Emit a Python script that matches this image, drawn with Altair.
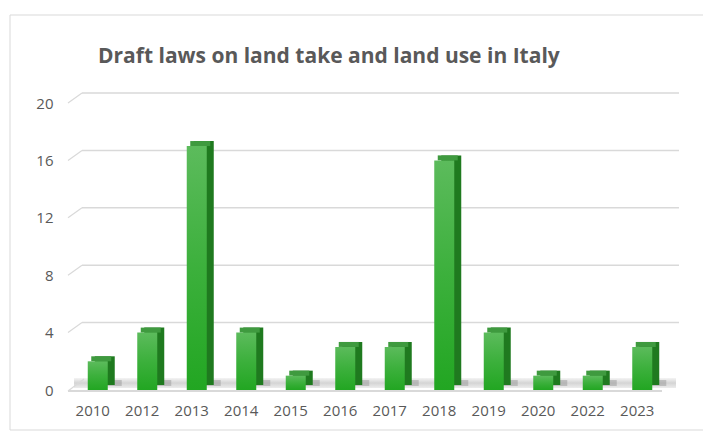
import altair as alt
import pandas as pd

years = ["2010", "2012", "2013", "2014", "2015", "2016", "2017", "2018", "2019", "2020", "2022", "2023"]
counts = [2, 4, 17, 4, 1, 3, 3, 16, 4, 1, 1, 3]
grid_values = [4, 8, 12, 16, 20]
y_ticks = [0, 4, 8, 12, 16, 20]
title_text = "Draft laws on land take and land use in Italy"

W, H = 594, 287
TXT = "#595959"
FONT = "Open Sans"

df = pd.DataFrame({"year": years, "count": counts})
gdf = pd.DataFrame({"v": grid_values})
one = pd.DataFrame({"t": [title_text]})

yaxis = alt.Axis(title=None, values=y_ticks, domain=False, ticks=False,
                 labelPadding=15, labelFontSize=15, labelColor=TXT, labelFont=FONT,
                 grid=False, zindex=1)
yscale = alt.Scale(domain=[0, 20], nice=False)

xs = alt.X("year:N", sort=years, scale=alt.Scale(paddingInner=0.0, paddingOuter=0.0),
           axis=alt.Axis(title=None, labelAngle=0, domain=False, ticks=False, labelPadding=13,
                         labelFontSize=15, labelColor=TXT, labelFont=FONT, grid=False, zindex=1))
ys = alt.Y("count:Q", scale=yscale, axis=yaxis)

frame = alt.Chart(one).mark_rect(fill="white", fillOpacity=0, stroke="#d9d9d9", strokeWidth=1).encode(
    x=alt.value(-58), x2=alt.value(W + 60), y=alt.value(-88), y2=alt.value(H + 40))

title = alt.Chart(one).mark_text(align="left", baseline="middle", font=FONT, fontSize=21,
                                 fontWeight="bold", color=TXT).encode(
    x=alt.value(30), y=alt.value(-46), text="t:N")

yg = alt.Y("v:Q", scale=yscale, axis=yaxis)
back_grid = alt.Chart(gdf).mark_rule(color="#d9d9d9", strokeWidth=1.5, yOffset=-10).encode(
    y=yg, x=alt.value(14), x2=alt.value(W + 17))
slant = alt.Chart(gdf).mark_rule(color="#d9d9d9", strokeWidth=1.2, y2Offset=-10).encode(
    y=yg, y2="v:Q", x=alt.value(0), x2=alt.value(14))

floor_grad = alt.Gradient(gradient="linear", x1=0, x2=0, y1=0, y2=1,
                          stops=[alt.GradientStop(offset=0, color="#f4f4f4"),
                                 alt.GradientStop(offset=0.5, color="#d4d4d4"),
                                 alt.GradientStop(offset=1, color="#ececec")])
floor = alt.Chart(one).mark_rect(color=floor_grad, yOffset=-12, y2Offset=-2).encode(
    x=alt.value(6), x2=alt.value(W + 14), y=alt.datum(0), y2=alt.datum(0))
front_line = alt.Chart(one).mark_rule(color="#d9d9d9", strokeWidth=2, yOffset=1).encode(
    x=alt.value(0), x2=alt.value(W), y=alt.datum(0))
slant0 = alt.Chart(one).mark_rule(color="#d9d9d9", strokeWidth=1.2, yOffset=1, y2Offset=-11).encode(
    x=alt.value(0), x2=alt.value(16), y=alt.datum(0), y2=alt.datum(0))

base = alt.Chart(df).encode(x=xs)
shadow = base.mark_bar(size=24, color="#7a7a7a", opacity=0.35, xOffset=17, yOffset=-10, y2Offset=-4).encode(
    y=alt.datum(0), y2=alt.datum(0))
side = base.mark_bar(size=20, color="#1f7a1f", xOffset=12, yOffset=-5, y2Offset=-5).encode(y=ys)
top = base.mark_bar(size=20, color="#3f9a3f", xOffset=8.5, yOffset=-5, y2Offset=0).encode(
    y=ys, y2="count:Q")
front_grad = alt.Gradient(gradient="linear", x1=0, x2=0, y1=0, y2=1,
                          stops=[alt.GradientStop(offset=0, color="#5cbb5c"),
                                 alt.GradientStop(offset=0.5, color="#3cb03c"),
                                 alt.GradientStop(offset=1, color="#22a622")])
front = base.mark_bar(size=20, color=front_grad, xOffset=5, y2Offset=-2).encode(y=ys)

chart = alt.layer(frame, title, back_grid, slant, floor, front_line, slant0,
                  shadow, side, top, front).properties(
    width=W, height=H,
    background="white",
    autosize=alt.AutoSizeParams(type="none"),
    padding={"left": 68, "top": 103, "right": 41, "bottom": 41},
).configure_view(stroke=None)

chart.save("out.html", embed_options={"renderer": "svg", "actions": False})
